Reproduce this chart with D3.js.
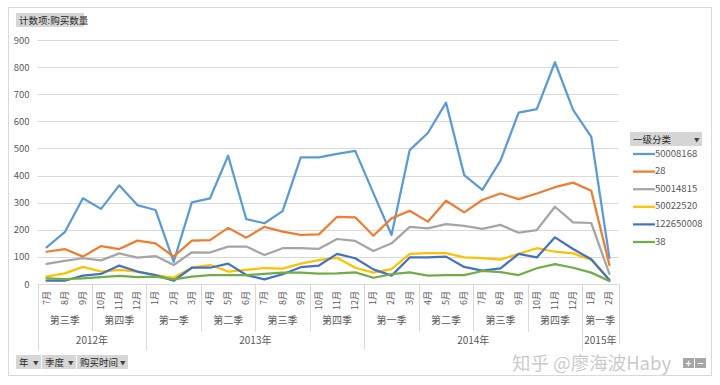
<!DOCTYPE html>
<html>
<head>
<meta charset="utf-8">
<script src="https://cdn.jsdelivr.net/npm/d3@7"></script>
<style>
  html, body { margin: 0; padding: 0; background: #fff; }
  svg { display: block; }
</style>
</head>
<body>
<div id="chart"></div>
<script>
// 购买数量 pivot chart — 按一级分类, 月度折线

const months = ['7月','8月','9月','10月','11月','12月',
  '1月','2月','3月','4月','5月','6月','7月','8月','9月','10月','11月','12月',
  '1月','2月','3月','4月','5月','6月','7月','8月','9月','10月','11月','12月',
  '1月','2月'];
const quarterLabels = ['第三季','第四季','第一季','第二季','第三季','第四季',
  '第一季','第二季','第三季','第四季','第一季'];
const quarterSizes = [3,3,3,3,3,3,3,3,3,3,2];
const yearLabels = ['2012年','2013年','2014年','2015年'];
const yearSizes = [6,12,12,2];
const yTicks = [0,100,200,300,400,500,600,700,800,900];

const seriesNames = ['50008168','28','50014815','50022520','122650008','38'];
const s50008168 = [135,191,316,277,364,291,273,82,301,316,473,239,224,269,467,467,
  480,491,335,181,494,557,669,402,347,455,632,645,818,642,543,96];
const s28 = [119,129,101,140,129,160,150,101,160,162,207,171,211,193,181,183,
  248,246,178,242,270,230,307,264,310,334,313,334,357,374,344,70];
const s50014815 = [74,85,95,87,113,97,103,70,117,116,138,138,107,132,132,130,
  166,159,122,150,211,205,221,214,203,218,189,199,285,227,225,37];
const s50022520 = [27,39,63,46,52,46,33,23,60,70,46,52,59,57,75,88,
  97,60,42,55,111,114,114,98,95,90,111,132,119,113,89,15];
const s122650008 = [12,12,31,37,68,46,33,12,60,60,75,33,17,36,62,68,
  111,95,54,31,98,98,101,63,49,58,111,98,172,129,91,15];
const s38 = [21,18,21,25,30,25,27,17,27,33,33,33,37,42,42,38,
  39,43,23,36,43,31,33,33,48,44,33,58,73,60,42,11];

const seriesValues = [s50008168, s28, s50014815, s50022520, s122650008, s38];
const COLORS = ['#5B9BD5','#ED7D31','#A5A5A5','#FFC000','#4472C4','#70AD47'];

const W = 720, H = 385;
const FONT = '"Noto Sans CJK SC", "Noto Sans", sans-serif';
const plot = { left: 37.5, right: 618.5, top: 40, bottom: 284 };

const svg = d3.select('#chart').append('svg')
  .attr('width', W).attr('height', H)
  .attr('font-family', FONT);

// outer frame
svg.append('rect')
  .attr('x', 8.5).attr('y', 7.5)
  .attr('width', 703).attr('height', 368)
  .attr('fill', '#fff')
  .attr('stroke', '#d9d9d9');

const x = d3.scaleBand()
  .domain(d3.range(months.length))
  .range([plot.left, plot.right]);

const y = d3.scaleLinear()
  .domain([0, 900])
  .range([plot.bottom, plot.top]);

// gridlines
svg.append('g')
  .selectAll('line')
  .data(yTicks)
  .join('line')
  .attr('x1', plot.left).attr('x2', plot.right)
  .attr('y1', d => Math.round(y(d)) + 0.5)
  .attr('y2', d => Math.round(y(d)) + 0.5)
  .attr('stroke', '#d9d9d9')
  .attr('stroke-width', 1);

// y axis labels
const yAxis = svg.append('g')
  .attr('transform', `translate(${plot.left - 8},0)`)
  .call(d3.axisLeft(y).tickValues(yTicks).tickSize(0).tickPadding(0));
yAxis.select('.domain').remove();
yAxis.selectAll('text')
  .attr('fill', '#595959')
  .attr('font-size', 9.5)
  .attr('font-family', FONT);

// category axis: months
const xAxis = svg.append('g');
xAxis.selectAll('text.month')
  .data(months)
  .join('text')
  .attr('class', 'month')
  .attr('transform', (d, i) => `translate(${x(i) + x.bandwidth() / 2 + 0.5},${plot.bottom + 7}) rotate(-90)`)
  .attr('text-anchor', 'end')
  .attr('dominant-baseline', 'middle')
  .attr('fill', '#595959')
  .attr('font-size', 9)
  .text(d => d);

// quarter level
const qStarts = d3.cumsum([0, ...quarterSizes]);
xAxis.selectAll('line.qsep')
  .data(qStarts)
  .join('line')
  .attr('class', 'qsep')
  .attr('x1', d => Math.round(x(d) ?? plot.right) + 0.5)
  .attr('x2', d => Math.round(x(d) ?? plot.right) + 0.5)
  .attr('y1', plot.bottom)
  .attr('y2', plot.bottom + 48)
  .attr('stroke', '#d9d9d9');

xAxis.selectAll('text.quarter')
  .data(quarterLabels)
  .join('text')
  .attr('class', 'quarter')
  .attr('x', (d, i) => {
    const a = x(qStarts[i]);
    const b = x(qStarts[i + 1]) ?? plot.right;
    return (a + b) / 2;
  })
  .attr('y', plot.bottom + 40)
  .attr('text-anchor', 'middle')
  .attr('fill', '#595959')
  .attr('font-size', 10)
  .text(d => d);

// year level
const yStarts = d3.cumsum([0, ...yearSizes]);
xAxis.selectAll('line.ysep')
  .data(yStarts)
  .join('line')
  .attr('class', 'ysep')
  .attr('x1', d => Math.round(x(d) ?? plot.right) + 0.5)
  .attr('x2', d => Math.round(x(d) ?? plot.right) + 0.5)
  .attr('y1', plot.bottom)
  .attr('y2', (d, i) => i === yStarts.length - 1 ? plot.bottom + 60 : plot.bottom + 66)
  .attr('stroke', '#d9d9d9');

xAxis.selectAll('text.year')
  .data(yearLabels)
  .join('text')
  .attr('class', 'year')
  .attr('x', (d, i) => {
    const a = x(yStarts[i]);
    const b = x(yStarts[i + 1]) ?? plot.right;
    return (a + b) / 2;
  })
  .attr('y', plot.bottom + 60)
  .attr('text-anchor', 'middle')
  .attr('fill', '#595959')
  .attr('font-size', 10)
  .text(d => d);

// lines
const line = d3.line()
  .x((d, i) => x(i) + x.bandwidth() / 2)
  .y(d => y(d));

svg.append('g')
  .selectAll('path')
  .data(seriesValues)
  .join('path')
  .attr('d', d => line(d))
  .attr('fill', 'none')
  .attr('stroke', (d, i) => COLORS[i])
  .attr('stroke-width', 2.25)
  .attr('stroke-linejoin', 'round')
  .attr('stroke-linecap', 'round');

// pivot field buttons
function fieldButton(bx, by, bw, label, arrow) {
  const g = svg.append('g').attr('transform', `translate(${bx},${by})`);
  g.append('rect')
    .attr('width', bw).attr('height', 14)
    .attr('fill', '#d6d6d6');
  g.append('text')
    .attr('x', 3).attr('y', 10.5)
    .attr('fill', '#262626')
    .attr('font-size', 9.5)
    .text(label);
  if (arrow) {
    g.append('text')
      .attr('x', bw - 2.5).attr('y', 10)
      .attr('text-anchor', 'end')
      .attr('fill', '#404040')
      .attr('font-size', 5.5)
      .text('▼');
  }
}

fieldButton(16, 13, 68, '计数项:购买数量', false);
fieldButton(630, 132, 72, '一级分类', true);
fieldButton(16, 355, 25, '年', true);
fieldButton(42, 355, 34, '季度', true);
fieldButton(77, 355, 51, '购买时间', true);

// legend
const legend = svg.append('g').attr('transform', 'translate(633,154)');
const items = legend.selectAll('g')
  .data(seriesNames)
  .join('g')
  .attr('transform', (d, i) => `translate(0,${i * 17.6})`);
items.append('line')
  .attr('x1', 0).attr('x2', 22)
  .attr('stroke', (d, i) => COLORS[i])
  .attr('stroke-width', 2.25);
items.append('text')
  .attr('x', 22).attr('y', 0)
  .attr('dominant-baseline', 'middle')
  .attr('fill', '#595959')
  .attr('font-size', 9.5)
  .text(d => d);

// zoom +/- buttons
const zb = svg.append('g').attr('transform', 'translate(683,358)');
['+', '−'].forEach((s, i) => {
  zb.append('rect')
    .attr('x', i * 12).attr('width', 11).attr('height', 10)
    .attr('fill', '#a6a6a6');
  zb.append('text')
    .attr('x', i * 12 + 5.5).attr('y', 8.5)
    .attr('text-anchor', 'middle')
    .attr('fill', '#fff')
    .attr('font-size', 10)
    .attr('font-weight', 700)
    .text(s);
});

// watermark
svg.append('text')
  .attr('x', 512).attr('y', 370)
  .attr('fill', '#bfbfbf')
  .attr('fill-opacity', 0.85)
  .attr('font-size', 18.5)
  .text('知乎 @廖海波Haby');
</script>
</body>
</html>
